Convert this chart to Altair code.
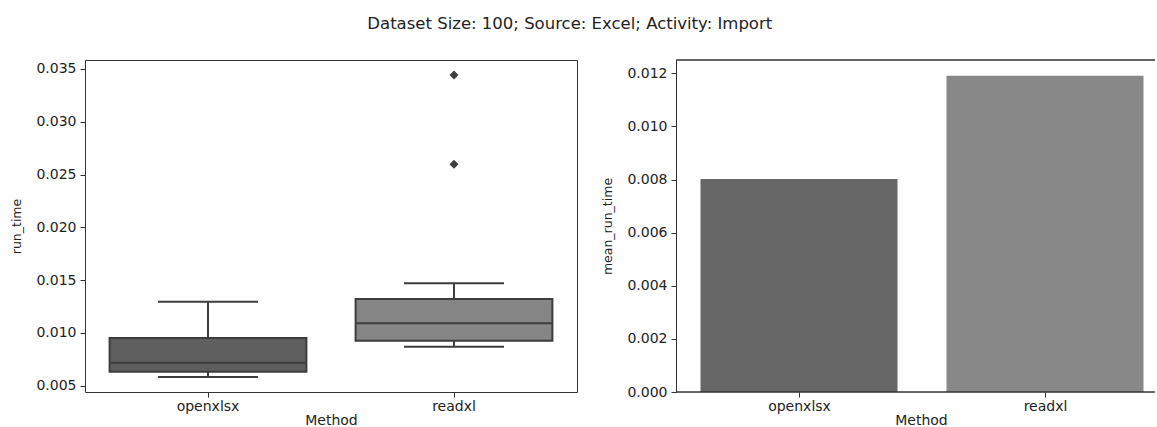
import altair as alt
import pandas as pd

# ---- data ----
methods = ["openxlsx", "readxl"]
whisker_low = [0.00582, 0.00869]
q1 = [0.00633, 0.00926]
median = [0.00718, 0.01091]
q3 = [0.00952, 0.01321]
whisker_high = [0.01296, 0.0147]
outlier_method = ["readxl", "readxl"]
outlier_value = [0.03443, 0.02597]
mean_run_time = [0.00802, 0.01191]

box_colors = ["#5f5f5f", "#858585"]
bar_colors = ["#676767", "#888888"]
edge = "#3d3d3d"
frame = "#333333"
LW = 2
RW = 478          # visible width of the right panel (reference panel is cut by the page edge)
STEP = 246        # category step of the reference panels
PT_PAD = (RW / STEP - 1) / 2            # point-scale padding giving that step inside RW
PT_ALIGN = (STEP / 2) / (RW - STEP)     # puts the first category half a step from the left edge

stats = pd.DataFrame({
    "Method": methods, "lo": whisker_low, "q1": q1, "med": median,
    "q3": q3, "hi": whisker_high,
})
outl = pd.DataFrame({"Method": outlier_method, "run_time": outlier_value})
means = pd.DataFrame({"Method": methods, "mean_run_time": mean_run_time})

# ---------------- left: box plot ----------------
xenc_l = alt.X("Method:N", sort=methods,
               scale=alt.Scale(paddingInner=0, paddingOuter=0),
               axis=alt.Axis(title="Method", labelAngle=0))
yscale_l = alt.Scale(domain=[0.0044, 0.03585], nice=False, zero=False)
yaxis_l = alt.Axis(title="run_time", values=[0.005, 0.01, 0.015, 0.02, 0.025, 0.03, 0.035],
                   format=".3f", titleX=-61.5)

base = alt.Chart(stats).encode(x=xenc_l)
whisk_lo = base.mark_rule(color=edge, strokeWidth=LW).encode(
    y=alt.Y("lo:Q", scale=yscale_l, axis=yaxis_l), y2="q1:Q")
whisk_hi = base.mark_rule(color=edge, strokeWidth=LW).encode(
    y=alt.Y("q3:Q"), y2="hi:Q")
cap_lo = base.mark_tick(color=edge, size=100, thickness=LW, opacity=1).encode(y="lo:Q")
cap_hi = base.mark_tick(color=edge, size=100, thickness=LW, opacity=1).encode(y="hi:Q")
box = base.mark_bar(width=alt.RelativeBandSize(0.8), stroke=edge, strokeWidth=LW).encode(
    y="q1:Q", y2="q3:Q",
    color=alt.Color("Method:N", scale=alt.Scale(domain=methods, range=box_colors), legend=None))
med = base.mark_tick(color=edge, size=197, thickness=LW, opacity=1).encode(y="med:Q")
pts = alt.Chart(outl).mark_point(shape="diamond", filled=True, color=edge, size=80, opacity=1).encode(
    x=alt.X("Method:N", sort=methods), y="run_time:Q")

left = alt.layer(whisk_lo, whisk_hi, cap_lo, cap_hi, box, med, pts).properties(
    width=492, height=332,
    view=alt.ViewBackground(stroke=frame, strokeWidth=1))

# ---------------- right: mean bar chart ----------------
xenc_r = alt.X("Method:N", sort=methods,
               scale=alt.Scale(type="point", padding=PT_PAD, align=PT_ALIGN),
               axis=alt.Axis(title="Method", labelAngle=0, titleX=245))
bars = alt.Chart(means).mark_bar(width=197).encode(
    x=xenc_r,
    y=alt.Y("mean_run_time:Q",
            scale=alt.Scale(domain=[0, 0.0125], nice=False),
            axis=alt.Axis(title="mean_run_time",
                          values=[0, 0.002, 0.004, 0.006, 0.008, 0.01, 0.012],
                          format=".3f", titleX=-61.5,
                          domain=True, domainColor=frame, domainWidth=1)),
    color=alt.Color("Method:N", scale=alt.Scale(domain=methods, range=bar_colors), legend=None),
)
top_edge = alt.Chart(means).mark_rule(color=frame, strokeWidth=1).encode(
    x=alt.value(0), x2=alt.value(RW + 1), y=alt.value(0))
bottom_edge = alt.Chart(means).mark_rule(color=frame, strokeWidth=1).encode(
    x=alt.value(0), x2=alt.value(RW + 1), y=alt.value(332))
right = alt.layer(bars, top_edge, bottom_edge).properties(
    width=RW, height=332,
    view=alt.ViewBackground(stroke=None))

chart = alt.hconcat(left, right, spacing=23).resolve_scale(color="independent").properties(
    title=alt.TitleParams("Dataset Size: 100; Source: Excel; Activity: Import",
                          fontSize=16.5, fontWeight="normal", anchor="middle", dx=-13,
                          offset=27, color="#222"),
    padding={"left": 10, "top": 16, "right": 0, "bottom": 0},
).configure(font="DejaVu Sans").configure_axis(
    grid=False, domain=False, labelFontSize=14, titleFontSize=12.5,
    labelColor="#222", titleColor="#222", titleFontWeight="normal",
    tickColor=frame, tickSize=5, labelPadding=4, titlePadding=4,
).configure_axisX(labelPadding=2, titlePadding=0, titleFontSize=14)

chart.save("out.html", embed_options={"renderer": "svg", "actions": False})
